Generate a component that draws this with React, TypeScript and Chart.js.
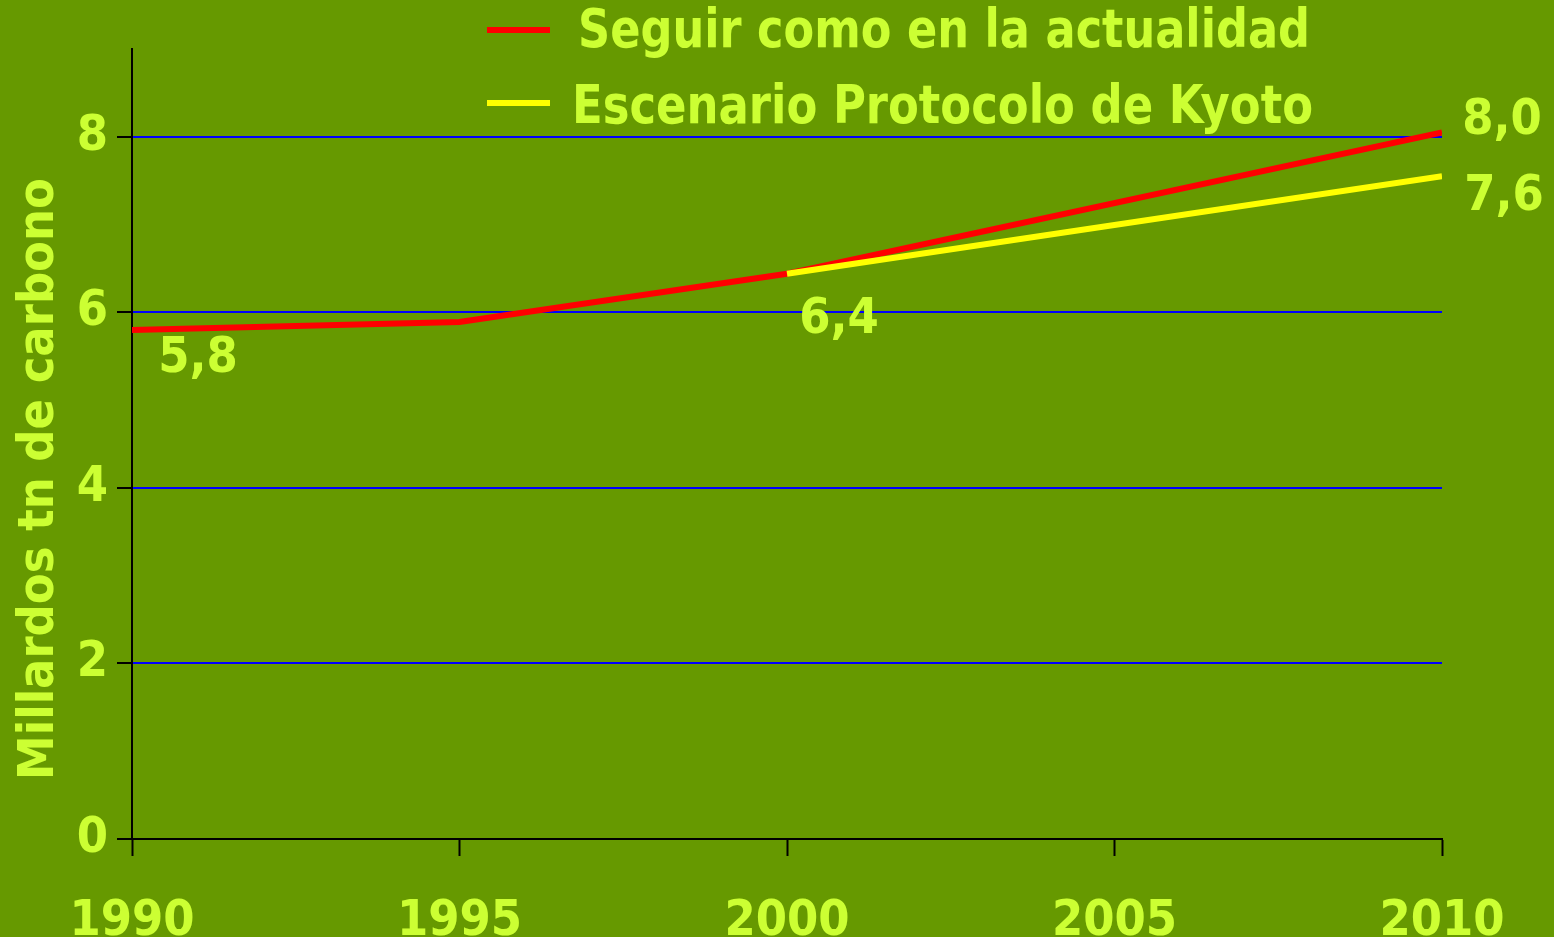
import { useEffect, useRef } from "react";
import { Chart, registerables } from "chart.js";
Chart.register(...registerables);

// ---- data ----
const xTickYears = [1990, 1995, 2000, 2005, 2010];
const yTickValues = [0, 2, 4, 6, 8];
const seriesNames = ["Seguir como en la actualidad", "Escenario Protocolo de Kyoto"];
const bauYears = [1990, 1995, 2000, 2010];
const bauValues = [5.8, 5.89, 6.44, 8.05];
const kyotoYears = [2000, 2010];
const kyotoValues = [6.44, 7.55];
const pointLabelTexts = ["5,8", "6,4", "8,0", "7,6"];
const pointLabelYears = [1990, 2000, 2010, 2010];
const pointLabelValues = [5.8, 6.44, 8.05, 7.55];
const yAxisTitle = "Millardos tn de carbono";

// ---- styles ----
const BG = "#669900";
const TEXT = "#ccff33";
const RED = "#ff0000";
const YELLOW = "#ffff00";
const GRID = "#0000ff";
const FONT = "'DejaVu Sans Condensed', 'DejaVu Sans', Verdana, sans-serif";
const FONT_SIZE = 50;
const LEGEND_FONT = "'Liberation Sans Narrow', 'DejaVu Sans Condensed', 'Liberation Sans', sans-serif";
const pointLabelOffsets = [
  [66, 29],
  [52, 46],
  [60, -11],
  [62, 21],
];
const legendLayout = {
  lineX1: 487,
  lineX2: 550,
  lineY: [30, 103],
  textX: [578, 572],
  textBaseline: [47, 123],
  textWidth: [732, 741],
  fontSize: 54,
};

export default function App() {
  const ref = useRef<HTMLCanvasElement | null>(null);
  useEffect(() => {
    document.body.style.margin = "0";
    const canvas = ref.current;
    if (!canvas) return;

    const bgPlugin = {
      id: "bg",
      beforeDraw(chart: any) {
        const c = chart.ctx;
        c.save();
        c.fillStyle = BG;
        c.fillRect(0, 0, chart.width, chart.height);
        c.restore();
      },
    };

    const labelsPlugin = {
      id: "extras",
      afterDraw(chart: any) {
        const c = chart.ctx;
        const xs = chart.scales.x;
        const ys = chart.scales.y;
        c.save();
        // point labels
        c.fillStyle = TEXT;
        c.font = `bold ${FONT_SIZE}px ${FONT}`;
        c.textAlign = "center";
        c.textBaseline = "middle";
        pointLabelTexts.forEach((t, i) => {
          const px = xs.getPixelForValue(pointLabelYears[i]) + pointLabelOffsets[i][0];
          const py = ys.getPixelForValue(pointLabelValues[i]) + pointLabelOffsets[i][1];
          c.fillText(t, px, py);
        });
        // y axis title
        c.save();
        c.translate(53, (chart.chartArea.top + chart.chartArea.bottom) / 2 + 35);
        c.rotate(-Math.PI / 2);
        c.textAlign = "center";
        c.textBaseline = "alphabetic";
        c.font = `bold ${FONT_SIZE}px ${FONT}`;
        c.fillText(yAxisTitle, 0, 0);
        c.restore();
        // legend
        const colors = [RED, YELLOW];
        seriesNames.forEach((name, i) => {
          c.strokeStyle = colors[i];
          c.lineWidth = 6;
          c.beginPath();
          c.moveTo(legendLayout.lineX1, legendLayout.lineY[i]);
          c.lineTo(legendLayout.lineX2, legendLayout.lineY[i]);
          c.stroke();
          c.font = `bold ${legendLayout.fontSize}px ${LEGEND_FONT}`;
          c.textAlign = "left";
          c.textBaseline = "alphabetic";
          const w = c.measureText(name).width;
          const sx = legendLayout.textWidth[i] / w;
          c.save();
          c.translate(legendLayout.textX[i], legendLayout.textBaseline[i]);
          c.scale(sx, 1);
          c.fillStyle = TEXT;
          c.fillText(name, 0, 0);
          c.restore();
        });
        c.restore();
      },
    };

    const chart = new Chart(canvas, {
      type: "line",
      data: {
        datasets: [
          {
            label: seriesNames[0],
            data: bauYears.map((x, i) => ({ x, y: bauValues[i] })),
            borderColor: RED,
            borderWidth: 6,
            pointRadius: 0,
            tension: 0,
            order: 1,
          },
          {
            label: seriesNames[1],
            data: kyotoYears.map((x, i) => ({ x, y: kyotoValues[i] })),
            borderColor: YELLOW,
            borderWidth: 6,
            pointRadius: 0,
            tension: 0,
            order: 0,
          },
        ],
      },
      options: {
        animation: false,
        responsive: false,
        maintainAspectRatio: false,
        layout: { padding: { top: 49, right: 112, left: 0, bottom: 0 } },
        plugins: { legend: { display: false }, tooltip: { enabled: false } },
        scales: {
          x: {
            type: "linear",
            min: 1990,
            max: 2010,
            afterBuildTicks: (s: any) => {
              s.ticks = xTickYears.map((v) => ({ value: v }));
            },
            afterFit: (s: any) => {
              s.height = 98;
            },
            grid: {
              drawOnChartArea: false,
              drawTicks: true,
              tickLength: 17,
              tickColor: "#000",
              tickWidth: 2,
            },
            border: { color: "#000", width: 2 },
            ticks: {
              color: TEXT,
              font: { family: FONT, size: FONT_SIZE, weight: "bold" },
              padding: 36,
              maxRotation: 0,
              autoSkip: false,
              callback: (v: any) => String(v),
            },
          },
          y: {
            min: 0,
            max: 9,
            afterBuildTicks: (s: any) => {
              s.ticks = yTickValues.map((v) => ({ value: v }));
            },
            afterFit: (s: any) => {
              s.width = 132;
            },
            grid: {
              color: (ctx: any) => (ctx.tick && ctx.tick.value === 0 ? "rgba(0,0,0,0)" : GRID),
              lineWidth: 2,
              drawTicks: true,
              tickLength: 15,
              tickColor: "#000",
              tickWidth: 2,
            },
            border: { color: "#000", width: 2 },
            ticks: {
              color: TEXT,
              font: { family: FONT, size: FONT_SIZE, weight: "bold" },
              padding: 9,
              callback: (v: any) => String(v),
            },
          },
        },
      },
      plugins: [bgPlugin, labelsPlugin],
    } as any);
    return () => chart.destroy();
  }, []);

  return (
    <div style={{ width: 1554, height: 937, overflow: "hidden", background: BG }}>
      <canvas ref={ref} width={1554} height={937} style={{ display: "block" }} />
    </div>
  );
}
